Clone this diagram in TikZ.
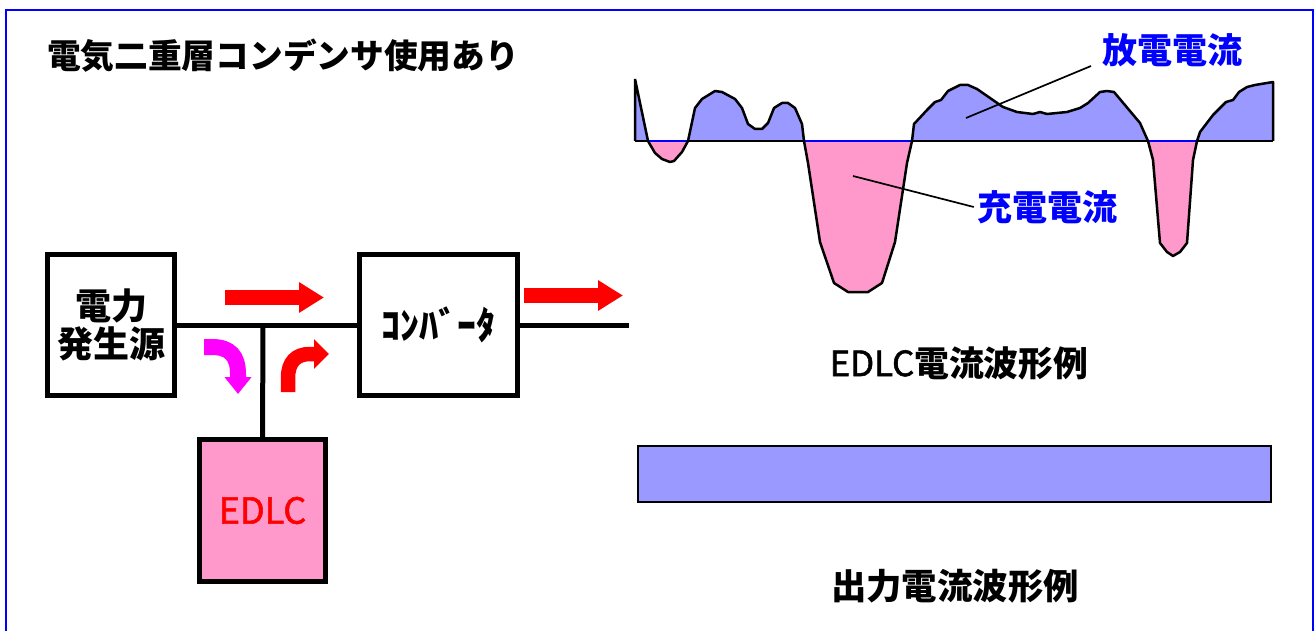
\documentclass[tikz,border=0pt]{standalone}
\usepackage{fontspec}
\setmainfont{Noto Sans CJK JP}
\newfontfamily\edlcfont{Noto Sans CJK JP}[FakeBold=1.5]
\usepackage{xcolor}
\usetikzlibrary{arrows.meta, positioning}
\definecolor{framblue}{RGB}{0,0,255}
\definecolor{softblue}{RGB}{153,153,255}
\definecolor{softpink}{RGB}{255,153,204}
\definecolor{flowred}{RGB}{255,0,0}
\definecolor{flowpink}{RGB}{255,0,255}
\newcommand{\jptext}[1]{\fontsize{#1}{#1}\selectfont}
\newcommand{\wavepts}{(635,79) -- (648,141) -- (655,153) -- (662,159) -- (670,162) -- (674,161) -- (682,152) -- (688,141) -- (695,108) -- (702,99) -- (715,91) -- (722,92) -- (735,99) -- (742,108) -- (748,124) -- (755,129) -- (762,129) -- (768,123) -- (774,108) -- (782,103) -- (788,103) -- (795,108) -- (802,124) -- (804,141) -- (808,163) -- (820,242) -- (834,283) -- (848,292) -- (868,292) -- (882,283) -- (895,242) -- (907,163) -- (912,141) -- (914,124) -- (927,110) -- (935,102) -- (941,100) -- (948,91) -- (960,85) -- (968,85) -- (977,89) -- (1003,107) -- (1017,112) -- (1033,114) -- (1040,112) -- (1047,114) -- (1067,112) -- (1080,108) -- (1088,103) -- (1100,92) -- (1107,91) -- (1114,92) -- (1140,123) -- (1148,141) -- (1153,160) -- (1160,243) -- (1167,252) -- (1173,256) -- (1180,252) -- (1187,243) -- (1193,160) -- (1197,141) -- (1200,132) -- (1213,115) -- (1226,102) -- (1233,100) -- (1239,92) -- (1247,87) -- (1255,85) -- (1273,82) -- (1273,141)}
\tikzset{
  blockbox/.style={draw=black, line width=5pt, inner sep=0pt, outer sep=0pt, align=center},
  wire/.style={black, line width=5pt},
  leader/.style={black, line width=1.7pt},
  waveline/.style={black, line width=2.5pt, line join=round},
  fatarrow/.style={line width=14.5pt, -{Triangle[length=25pt, width=29pt]}},
  bluelabel/.style={framblue, font=\jptext{35}\bfseries, inner sep=3pt},
  blacklabel/.style={black, font=\jptext{34.8}\bfseries, inner sep=0pt}
}
\begin{document}
\begin{tikzpicture}[x=1pt, y=-1pt]
  \useasboundingbox (0,0) rectangle (1314,631);
  \draw[framblue, line width=2pt] (5.5,631) -- (5.5,10) -- (1312.5,10) -- (1312.5,631);
  \node[blacklabel, font=\jptext{33.7}\bfseries] (titlelabel) at (283,56) {電気二重層コンデンサ使用あり};
  \node[blockbox, minimum width=127pt, minimum height=141pt, font=\jptext{36}\bfseries] (source) at (111,325) {電力\\[2pt]発生源};
  \node[blockbox, minimum width=158pt, minimum height=141pt, font=\jptext{38}\bfseries] (converter) at (438.5,325) {ｺﾝﾊﾞｰﾀ};
  \node[blockbox, fill=softpink, text=flowred, minimum width=126pt, minimum height=142pt, font=\jptext{36}\edlcfont] (edlc) at (262.5,510.5) {EDLC};
  \coordinate (tee) at (263,325);
  \coordinate (wireend) at (629,325);
  \draw[wire] (source.east) -- (converter.west);
  \draw[wire] (tee) -- (edlc.north);
  \draw[wire] (converter.east) -- (wireend);
  \draw[fatarrow, flowred] (225,297.5) -- (324,297.5);
  \draw[fatarrow, flowred] (524,295.5) -- (623,295.5);
  \draw[fatarrow, flowpink, line width=16pt, -{Triangle[length=17pt, width=26pt]}] (204,347) -- (212,347) .. controls (230,347) and (238,356) .. (238,374) -- (238,394);
  \draw[fatarrow, flowred, -{Triangle[length=15pt, width=29pt]}] (288,392) -- (288,378) .. controls (288,362) and (296,354) .. (310,354) -- (329,354);
  \begin{scope}
    \clip (630,60) rectangle (1280,141);
    \fill[softblue] \wavepts -- (635,141) -- cycle;
  \end{scope}
  \begin{scope}
    \clip (630,141) rectangle (1280,300);
    \fill[softpink] \wavepts -- (635,141) -- cycle;
  \end{scope}
  \draw[framblue, line width=2.5pt] (635,141) -- (1273,141);
  \draw[waveline] (635,141) -- (648,141) (688,141) -- (804,141) (912,141) -- (1148,141) (1197,141) -- (1273,141);
  \draw[waveline] \wavepts (635,141) -- (635,79);
  \node[bluelabel] (dischargelabel) at (1172,50) {放電電流};
  \node[bluelabel] (chargelabel) at (1047,207) {充電電流};
  \coordinate (dischargeend) at (1091,66);
  \coordinate (dischargepoint) at (966,118);
  \coordinate (chargepoint) at (853,176);
  \draw[leader] (dischargeend) -- (dischargepoint);
  \draw[leader] (chargelabel.west) -- (chargepoint);
  \node[blacklabel] (edlcwave) at (959,363) {{\mdseries\edlcfont EDLC}電流波形例};
  \node[blockbox, draw=black, line width=2.5pt, fill=softblue, minimum width=633pt, minimum height=56pt] (outputbar) at (954.5,474) {};
  \node[blacklabel, font=\jptext{35.4}\bfseries] (outputwave) at (955,586) {出力電流波形例};
\end{tikzpicture}
\end{document}
